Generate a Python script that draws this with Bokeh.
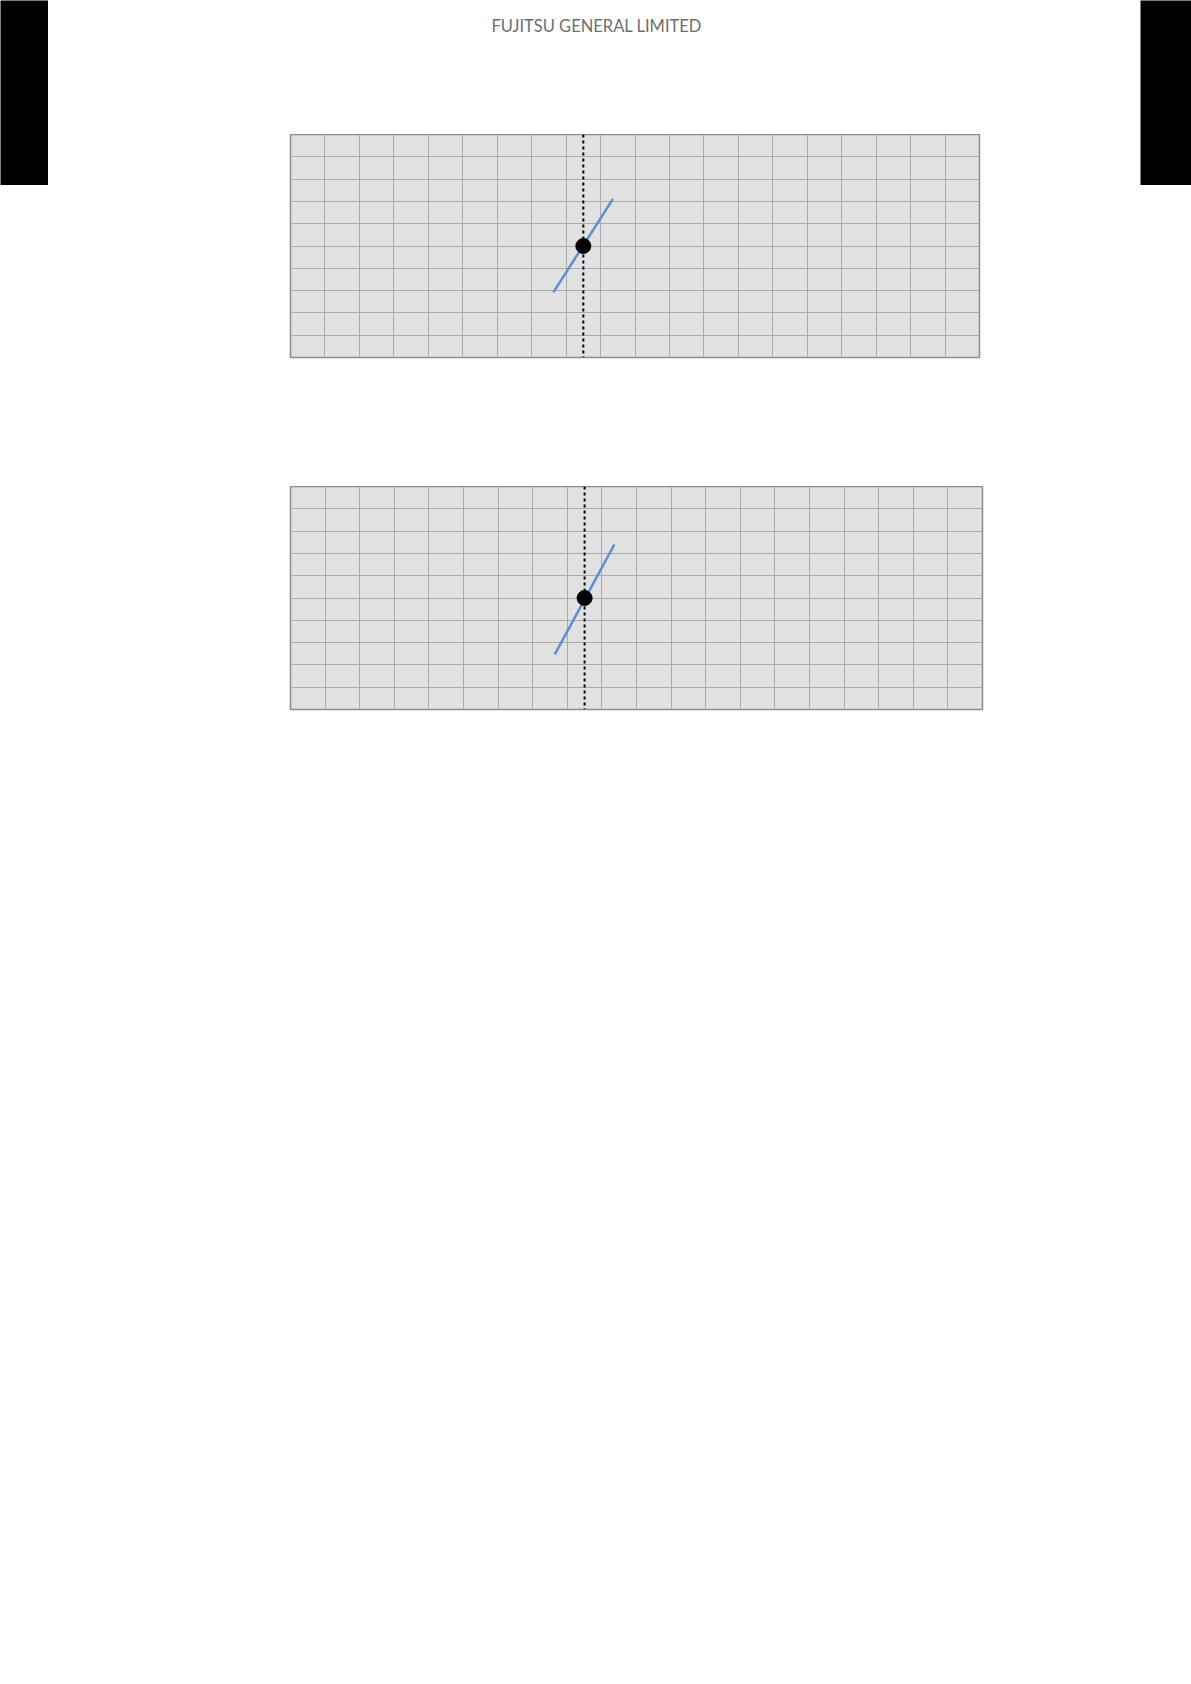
from bokeh.plotting import figure
from bokeh.layouts import row, column
from bokeh.models import FixedTicker, Span, Label, Range1d
from bokeh.embed import file_html
from bokeh.resources import INLINE

# ---------------- data ----------------
header_text = "FUJITSU GENERAL LIMITED"

x_ticks = list(range(0, 21))      # 20 grid columns
y_ticks = list(range(0, 11))      # 10 grid rows

# chart 1
c1_design_x = 8.5
c1_point_x = [8.5]
c1_point_y = [5.0]
c1_curve_x = [7.63, 9.36]
c1_curve_y = [2.92, 7.11]

# chart 2
c2_design_x = 8.5
c2_point_x = [8.5]
c2_point_y = [5.0]
c2_curve_x = [7.64, 9.36]
c2_curve_y = [2.47, 7.40]

# ---------------- styles ----------------
BG = "#e1e1e1"
GRID = "#ababab"
OUTLINE = "#8c8c8c"
BLUE = "#5b8fd0"
PAGE_W = 1191
LEFT_W = 48
RIGHT_W = 51
MID_W = PAGE_W - LEFT_W - RIGHT_W


def strip(w, h):
    f = figure(width=w, height=h, toolbar_location=None, output_backend="svg",
               min_border=0, x_axis_type=None, y_axis_type=None, frame_align=False)
    f.background_fill_color = "black"
    f.border_fill_color = "black"
    f.outline_line_color = None
    f.grid.visible = False
    return f


def chart(frame_w, border_left, border_bottom, design_x, px, py, cx, cy):
    border_right = MID_W - border_left - frame_w
    f = figure(width=MID_W, height=223 + border_bottom, toolbar_location=None,
               output_backend="svg", x_range=Range1d(0, 20), y_range=Range1d(0, 10),
               min_border_left=border_left, min_border_right=border_right,
               min_border_top=0, min_border_bottom=border_bottom, frame_align=False)
    f.xaxis.ticker = FixedTicker(ticks=x_ticks)
    f.yaxis.ticker = FixedTicker(ticks=y_ticks)
    f.axis.visible = False
    f.background_fill_color = BG
    f.border_fill_color = "white"
    f.outline_line_color = OUTLINE
    f.outline_line_width = 1.5
    f.grid.grid_line_color = GRID
    f.grid.grid_line_width = 1
    f.add_layout(Span(location=design_x, dimension="height", line_color="black",
                      line_width=2, line_dash="3 3"))
    f.line(cx, cy, line_color=BLUE, line_width=2.5)
    f.scatter(px, py, size=15, color="black")
    return f


left = strip(LEFT_W, 185)
right = strip(RIGHT_W, 185)

header = figure(width=MID_W, height=134, toolbar_location=None, output_backend="svg",
                min_border=0, x_axis_type=None, y_axis_type=None, frame_align=False,
                x_range=Range1d(0, MID_W), y_range=Range1d(134, 0))
header.outline_line_color = None
header.grid.visible = False
header.add_layout(Label(x=443, y=25, text=header_text, text_align="left",
                        text_baseline="alphabetic", text_font="Lato",
                        text_font_size="16.5px", text_color="#6e6e6e"))

c1 = chart(689, 242, 129, c1_design_x, c1_point_x, c1_point_y, c1_curve_x, c1_curve_y)
c2 = chart(692, 242, 30, c2_design_x, c2_point_x, c2_point_y, c2_curve_x, c2_curve_y)

middle = column(header, c1, c2)
root = row(left, middle, right)

open("out.html", "w").write(file_html(root, INLINE))
